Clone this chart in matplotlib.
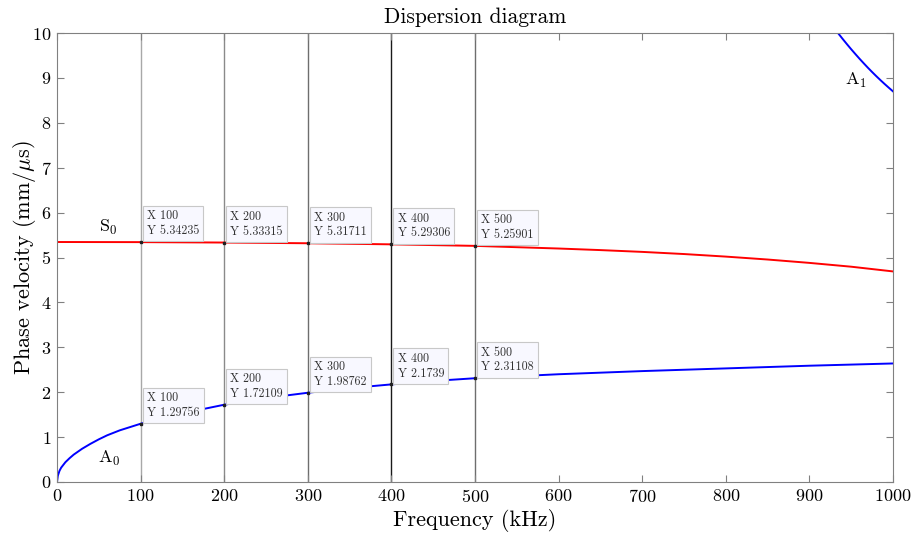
import matplotlib
matplotlib.use('Agg')
import matplotlib.pyplot as plt
import numpy as np

# Dispersion curves (frequency in kHz, phase velocity in mm/us)
a0_freq = [0, 1, 3, 5, 10, 15, 20, 30, 40, 50, 60, 75, 100, 150, 200, 250, 300, 350,
           400, 450, 500, 600, 700, 800, 900, 1000]
a0_vel = [0.0, 0.14, 0.25, 0.32, 0.44, 0.53, 0.61, 0.74, 0.85, 0.95, 1.04, 1.15, 1.29756,
          1.53, 1.72109, 1.87, 1.98762, 2.09, 2.1739, 2.25, 2.31108, 2.40, 2.47, 2.53, 2.59, 2.64]

s0_freq = [0, 100, 200, 300, 400, 500, 600, 650, 700, 750, 800, 850, 900, 950, 1000]
s0_vel = [5.345, 5.34235, 5.33315, 5.31711, 5.29306, 5.25901, 5.20, 5.165, 5.125,
          5.077, 5.02, 4.955, 4.88, 4.795, 4.69]

a1_freq = [930, 935, 940, 945, 950, 955, 960, 965, 970, 975, 980, 985, 990, 995, 1000]
a1_vel = [10.10, 9.98, 9.863, 9.749, 9.638, 9.531, 9.426, 9.325, 9.226, 9.131, 9.039,
          8.950, 8.864, 8.781, 8.70]

# data tips
tip_freq = [100, 200, 300, 400, 500]
tip_s0 = ['5.34235', '5.33315', '5.31711', '5.29306', '5.25901']
tip_a0 = ['1.29756', '1.72109', '1.98762', '2.1739', '2.31108']
line_colors = ['#a8a8a8', '#8a8a8a', '#6e6e6e', '#1a1a1a', '#6e6e6e']

plt.rcParams['font.family'] = ['cmr10', 'DejaVu Serif']
plt.rcParams['mathtext.fontset'] = 'cm'
plt.rcParams['axes.formatter.use_mathtext'] = True

fig = plt.figure(figsize=(9.16, 5.39), dpi=100)
ax = fig.add_axes([57 / 916, 1 - 482 / 539, 836 / 916, 449 / 539])

for f, c in zip(tip_freq, line_colors):
    ax.axvline(f, color=c, linewidth=1.0, zorder=1)

ax.plot(a0_freq, a0_vel, color='#0000ff', linewidth=1.4, zorder=2)
ax.plot(s0_freq, s0_vel, color='#ff0000', linewidth=1.4, zorder=2)
ax.plot(a1_freq, a1_vel, color='#0000ff', linewidth=1.4, zorder=2)

box = dict(boxstyle='square,pad=0.35', facecolor='#f8f8ff', edgecolor='#c8c8c8', linewidth=0.8)
for f, ys, ya in zip(tip_freq, tip_s0, tip_a0):
    for ystr in (ys, ya):
        y = float(ystr)
        ax.plot(f, y, 's', color='#202020', markersize=2, zorder=3)
        ax.annotate('X %d\nY %s' % (f, ystr), xy=(f, y), xytext=(4.5, 3.5),
                    textcoords='offset points', ha='left', va='bottom',
                    fontsize=8.7, color='#333333', bbox=box, zorder=4,
                    linespacing=1.3)

ax.text(62, 5.66, r'S$_0$', fontsize=13, ha='center', va='center')
ax.text(62, 0.53, r'A$_0$', fontsize=13, ha='center', va='center')
ax.text(956, 8.95, r'A$_1$', fontsize=13, ha='center', va='center')

ax.set_xlim(0, 1000)
ax.set_ylim(0, 10)
ax.set_xticks(np.arange(0, 1001, 100))
ax.set_yticks(np.arange(0, 11, 1))
ax.tick_params(direction='in', length=5, width=0.8, color='#808080', labelsize=13,
               top=True, right=True, labeltop=False, labelright=False, pad=4)
for s in ax.spines.values():
    s.set_color('#808080')
    s.set_linewidth(0.8)

ax.set_title('Dispersion diagram', fontsize=15.5, pad=7)
ax.set_xlabel('Frequency (kHz)', fontsize=16, labelpad=3)
ax.set_ylabel(r'Phase velocity (mm/$\mu$s)', fontsize=16, labelpad=-4)

fig.savefig('out.png', dpi=100)
